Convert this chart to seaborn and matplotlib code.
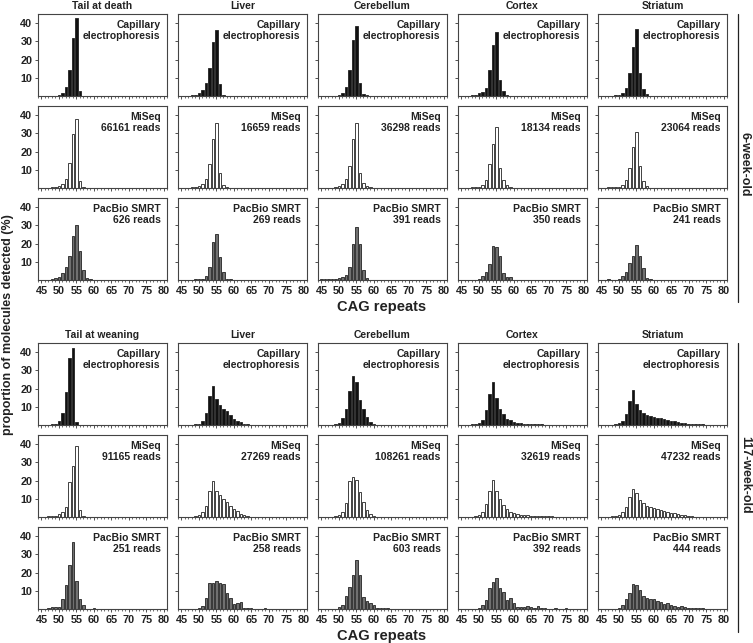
import numpy as np
import pandas as pd
import seaborn as sns
import matplotlib.pyplot as plt
from matplotlib.ticker import MultipleLocator

# column titles of the two age blocks
tissues_6wk = ["Tail at death", "Liver", "Cerebellum", "Cortex", "Striatum"]
tissues_117wk = ["Tail at weaning", "Liver", "Cerebellum", "Cortex", "Striatum"]

# (first CAG repeat, proportion of molecules in % for consecutive repeats), one per tissue
cap_6wk = [
    (50, [0.5, 1.5, 5, 14.5, 32, 43, 3]),
    (48, [0.4, 0.8, 1.5, 3.3, 7.4, 15.6, 29.5, 36, 6.4, 0.8]),
    (50, [0.8, 1.8, 5, 14, 30.7, 38.3, 7, 1, 0.3]),
    (48, [0.3, 0.8, 1.5, 2, 4.5, 14.5, 28, 35, 9, 2.8, 0.8]),
    (49, [0.3, 0.8, 1.8, 4.6, 12.5, 26.7, 36.8, 12.5, 4, 1]),
]
miseq_6wk = [
    (48, [0.3, 0.5, 1, 2, 5, 13.5, 29.5, 38, 4, 0.4]),
    (48, [0.3, 0.5, 1, 2.4, 5, 12.9, 27, 35.9, 8.3, 1.8, 0.3]),
    (49, [0.5, 1, 2.4, 5, 12.3, 26.7, 35.5, 8.3, 3, 1, 0.3]),
    (48, [0.3, 0.5, 0.8, 1.5, 4.6, 13, 24, 33.5, 11, 4.6, 1.5, 0.5]),
    (47, [0.3, 0.3, 0.5, 0.8, 1.8, 4.6, 11, 22.6, 31, 12, 3.7, 1]),
]
pacbio_6wk = [
    (48, [0.5, 1, 1.8, 3.7, 7.4, 13, 24, 30, 16, 5.5, 1, 0.4]),
    (49, [0.3, 0.5, 0.8, 2.4, 7.4, 20.6, 25, 12.5, 4.2, 0.5, 0.5]),
    (45, [0.3, 0.3, 0.3, 0.3, 0.5, 1, 1.5, 2.8, 7.4, 20, 29, 20, 5.5, 1.3]),
    (50, [0.5, 2, 4.5, 9, 18.8, 18, 13, 4, 1.5, 1.5]),
    (47, [0.5, 0, 0, 0.8, 2.2, 4.6, 9.2, 13.3, 19.3, 13.3, 6.4, 1, 0.4]),
]
cap_117wk = [
    (48, [0.3, 0.7, 2.4, 6.8, 17.9, 36.8, 42.5, 1.8]),
    (49, [0.3, 0.5, 2, 6.5, 16, 21.5, 14, 11, 9, 7.5, 5.5, 3.5, 2, 1.5, 0.7, 0.3]),
    (49, [0.4, 1, 3.7, 8.7, 18.4, 26.7, 23.4, 13.8, 8.7, 4.6, 1.5, 0.5]),
    (48, [0.3, 0.5, 1.2, 3, 8, 17, 23.5, 15, 9, 6, 3.5, 2.5, 1.8, 1.3, 1, 0.8, 0.6,
          0.5, 0.4, 0.3, 0.3, 0.2, 0.2]),
    (49, [0.3, 1, 2.4, 5.9, 12.9, 19, 11.6, 8.3, 6.5, 5.5, 5, 4.5, 4, 3.6, 3.2, 2.8,
          2.4, 2, 1.6, 1.3, 1, 0.8, 0.6, 0.5, 0.4, 0.3, 0.2]),
]
miseq_117wk = [
    (47, [0.3, 0.5, 0.8, 1.5, 2.6, 5.5, 19, 28, 39, 3.7, 0.8]),
    (49, [0.5, 1, 2.6, 6.3, 14, 19.5, 14.5, 12.3, 10, 8, 6.3, 4.4, 3.1, 1.8, 1.3, 0.7]),
    (49, [0.5, 1, 2.6, 7.7, 19.5, 22, 20.5, 13.6, 8, 4, 1.8, 0.7]),
    (49, [0.5, 1, 2.5, 7, 14, 20.5, 14.5, 10, 6.5, 4.2, 2.8, 2.2, 1.6, 1.3, 1.2, 1,
          0.8, 0.7, 0.6, 0.5, 0.4, 0.3, 0.3, 0.2]),
    (48, [0.3, 0.6, 1.2, 2.8, 5.5, 11, 15.5, 13, 9.6, 7.7, 5.9, 5.3, 5, 4.4, 3.7,
          3.1, 2.8, 2.4, 2, 1.6, 1.3, 1, 0.8, 0.6]),
]
pacbio_117wk = [
    (47, [0.5, 1.3, 1.3, 1.3, 5.5, 13.3, 24.3, 36.5, 15.1, 5.5, 2.2, 0, 0, 0.4]),
    (50, [0.3, 1.8, 5.9, 14.5, 14, 15.5, 14, 13.5, 8.7, 5.9, 3, 3.5, 4, 0.7, 0.5,
          0.3, 0, 0, 0, 0.3]),
    (50, [1, 2.2, 7.2, 12.3, 18.8, 27, 18.8, 6.8, 4.4, 3.5, 2.2, 0.8, 0.5, 0.4, 0.3]),
    (50, [0.5, 2, 5, 11.5, 15, 17, 11.5, 9.5, 5, 6, 3.3, 1.3, 1.3, 1.3, 1.5, 1.2,
          0.7, 1.5, 0.4, 0.3, 0, 0, 0.3, 0, 0, 0.3]),
    (50, [0.8, 2.2, 5.3, 9, 13.8, 12.9, 10.5, 7.2, 6.1, 5.7, 5.3, 4.6, 4, 2.8, 3.1,
          2.2, 1.7, 1.1, 1.7, 0.9, 0.5, 0.5, 0.3, 0.3, 0.3]),
]
miseq_reads_6wk = [66161, 16659, 36298, 18134, 23064]
pacbio_reads_6wk = [626, 269, 391, 350, 241]
miseq_reads_117wk = [91165, 27269, 108261, 32619, 47232]
pacbio_reads_117wk = [251, 258, 603, 392, 444]

sns.set_theme(style="ticks")
plt.rcParams['font.family'] = ['Liberation Sans', 'DejaVu Sans']
plt.rcParams['font.weight'] = 'bold'

W, H = 753, 643
fig = plt.figure(figsize=(W / 100, H / 100), dpi=100)

col_left = [38, 178, 318, 458, 598]
pw, ph = 129, 82
block_tops = [14, 343]
row_step = 92

fills = ['#111111', '#ffffff', '#707070']
edge = '#222222'


def draw_panel(ax, start, vals, fill, label, first_col, bottom_row):
    df = pd.DataFrame({"cag": np.arange(start, start + len(vals)), "pct": vals})
    sns.barplot(data=df, x="cag", y="pct", native_scale=True, width=0.72,
                color=fill, saturation=1, edgecolor=edge, linewidth=0.6, ax=ax)
    ax.set_xlim(44, 81)
    ax.set_ylim(0, 45)
    ax.set_xlabel("")
    ax.set_ylabel("")
    ax.xaxis.set_major_locator(MultipleLocator(5))
    ax.xaxis.set_minor_locator(MultipleLocator(1))
    ax.tick_params(axis='x', which='major', length=2.5, width=0.6, color='#333333',
                   labelsize=7.8, pad=2, labelbottom=bottom_row)
    ax.tick_params(axis='x', which='minor', length=1.5, width=0.5, color='#333333')
    ax.tick_params(axis='y', length=2, width=0.6, color='#333333',
                   labelsize=7.8, pad=2, labelleft=first_col)
    ax.set_yticks([10, 20, 30, 40])
    for s in ax.spines.values():
        s.set_color('#444444')
        s.set_linewidth(0.8)
    for t in ax.get_xticklabels() + ax.get_yticklabels():
        t.set_fontweight('bold')
        t.set_color('#222222')
    ax.text(0.95, 0.93, label, transform=ax.transAxes, ha='right', va='top',
            fontsize=7.5, fontweight='bold', linespacing=1.15, color='#222222')


blocks = [
    (tissues_6wk, [cap_6wk, miseq_6wk, pacbio_6wk], miseq_reads_6wk, pacbio_reads_6wk),
    (tissues_117wk, [cap_117wk, miseq_117wk, pacbio_117wk], miseq_reads_117wk, pacbio_reads_117wk),
]

for b, (tissues, rows, mreads, preads) in enumerate(blocks):
    top0 = block_tops[b]
    for c in range(5):
        for r in range(3):
            top = top0 + r * row_step
            ax = fig.add_axes([col_left[c] / W, 1 - (top + ph) / H, pw / W, ph / H])
            start, vals = rows[r][c]
            if r == 0:
                label = "Capillary\nelectrophoresis"
            elif r == 1:
                label = f"MiSeq\n{mreads[c]} reads"
            else:
                label = f"PacBio SMRT\n{preads[c]} reads"
            draw_panel(ax, start, vals, fills[r], label, c == 0, r == 2)
        fig.text((col_left[c] + pw / 2) / W, 1 - (top0 - 8) / H, tissues[c],
                 ha='center', va='center', fontsize=7.5, fontweight='bold', color='#222222')
    # x axis title of the block
    fig.text(382 / W, 1 - (top0 + 2 * row_step + ph + 27) / H, "CAG repeats",
             ha='center', va='center', fontsize=10.5, fontweight='bold', color='#222222')

# age labels on the right with a vertical rule
fig.add_artist(plt.Line2D([738 / W, 738 / W], [1 - 14 / H, 1 - 302 / H], color='#222222', lw=0.9))
fig.add_artist(plt.Line2D([738 / W, 738 / W], [1 - 343 / H, 1 - 632 / H], color='#222222', lw=0.9))
fig.text(745 / W, 1 - 164 / H, "6-week-old", rotation=270, ha='center', va='center',
         fontsize=9, fontweight='bold', color='#222222')
fig.text(745 / W, 1 - 475 / H, "117-week-old", rotation=270, ha='center', va='center',
         fontsize=9, fontweight='bold', color='#222222')

fig.text(8 / W, 1 - 325 / H, "proportion of molecules detected (%)", rotation=90,
         ha='center', va='center', fontsize=9, fontweight='bold', color='#222222')

fig.savefig("out.png", dpi=100)
